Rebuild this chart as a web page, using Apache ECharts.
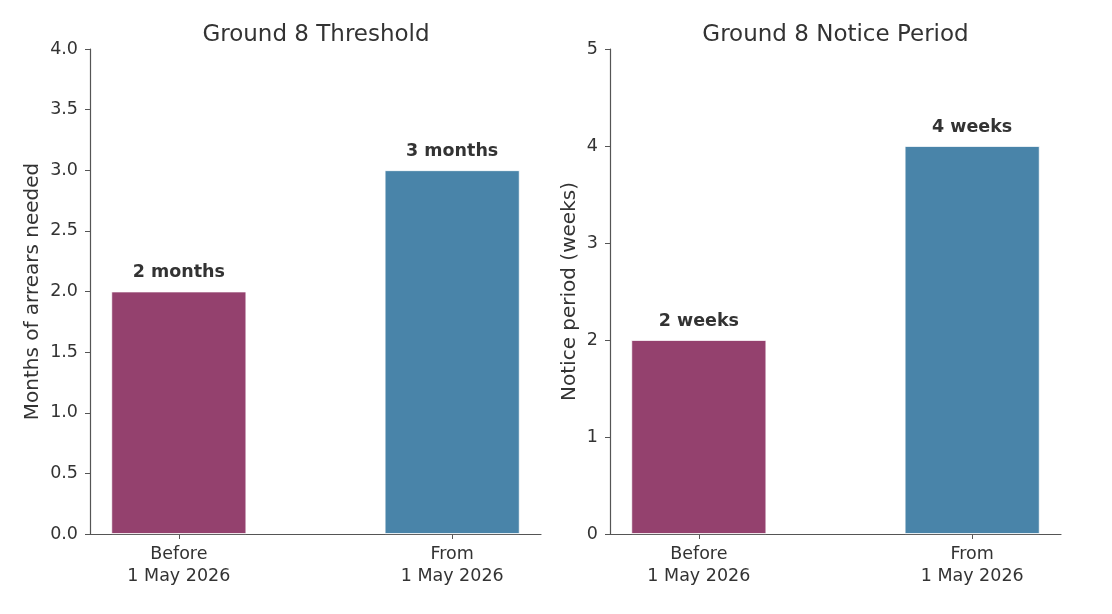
<!DOCTYPE html>
<html>
<head>
<meta charset="utf-8">
<script src="https://cdn.jsdelivr.net/npm/echarts@6/dist/echarts.min.js"></script>
<style>
  html, body { margin: 0; padding: 0; background: #fff; }
  #chart { width: 1112px; height: 614px; }
</style>
</head>
<body>
<div id="chart"></div>
<script>
const categories = ['Before\n1 May 2026', 'From\n1 May 2026'];
const thresholdMonths = [2, 3];
const thresholdLabels = ['2 months', '3 months'];
const noticeWeeks = [2, 4];
const noticeLabels = ['2 weeks', '4 weeks'];
const barColors = ['#94416e', '#4984a9'];

const textColor = '#333333';
const axisColor = '#555555';
const font = 'DejaVu Sans';

const chart = echarts.init(document.getElementById('chart'), null, { renderer: 'canvas' });

function xAxisFor(gridIndex) {
    return {
        type: 'value',
        gridIndex: gridIndex,
        min: -0.325,
        max: 1.325,
        splitLine: { show: false },
        axisLine: { show: true, onZero: false, lineStyle: { color: axisColor, width: 1.2 } },
        axisTick: { show: true, length: 5, customValues: [0, 1], lineStyle: { color: axisColor } },
        axisLabel: {
            customValues: [0, 1],
            formatter: (v) => categories[Math.round(v)],
            color: textColor, fontSize: 17.5, fontFamily: font, lineHeight: 22, margin: 9
        }
    };
}

function yAxisFor(gridIndex, max, interval, name, nameGap, decimals) {
    return {
        type: 'value',
        gridIndex: gridIndex,
        min: 0,
        max: max,
        interval: interval,
        name: name,
        nameLocation: 'middle',
        nameGap: nameGap,
        nameTextStyle: { color: textColor, fontSize: 20, fontFamily: font },
        splitLine: { show: false },
        axisLine: { show: true, onZero: false, lineStyle: { color: axisColor, width: 1.2 } },
        axisTick: { show: true, length: 5, lineStyle: { color: axisColor } },
        axisLabel: {
            formatter: (v) => v.toFixed(decimals),
            color: textColor, fontSize: 17.5, fontFamily: font, margin: 12
        }
    };
}

function barSeries(idx, values, labels) {
    return {
        type: 'bar',
        xAxisIndex: idx,
        yAxisIndex: idx,
        barWidth: 135,
        data: values.map((v, i) => ({
            value: [i, v],
            itemStyle: { color: barColors[i], borderColor: '#ffffff', borderWidth: 0.8 }
        })),
        label: {
            show: true,
            position: 'top',
            distance: 10,
            formatter: (p) => labels[p.dataIndex],
            color: textColor, fontSize: 17.5, fontWeight: 'bold', fontFamily: font
        }
    };
}

const option = {
    animation: false,
    backgroundColor: '#ffffff',
    title: [
        { text: 'Ground 8 Threshold', left: 311, textAlign: 'center', top: 19,
          textStyle: { color: textColor, fontSize: 23, fontWeight: 'normal', fontFamily: font } },
        { text: 'Ground 8 Notice Period', left: 830.5, textAlign: 'center', top: 19,
          textStyle: { color: textColor, fontSize: 23, fontWeight: 'normal', fontFamily: font } }
    ],
    grid: [
        { left: 90, top: 49, width: 451, height: 485 },
        { left: 610, top: 49, width: 451, height: 485 }
    ],
    xAxis: [xAxisFor(0), xAxisFor(1)],
    yAxis: [
        yAxisFor(0, 4, 0.5, 'Months of arrears needed', 47, 1),
        yAxisFor(1, 5, 1, 'Notice period (weeks)', 30, 0)
    ],
    series: [
        barSeries(0, thresholdMonths, thresholdLabels),
        barSeries(1, noticeWeeks, noticeLabels)
    ]
};

chart.setOption(option);
window.addEventListener('resize', chart.resize);
</script>
</body>
</html>
